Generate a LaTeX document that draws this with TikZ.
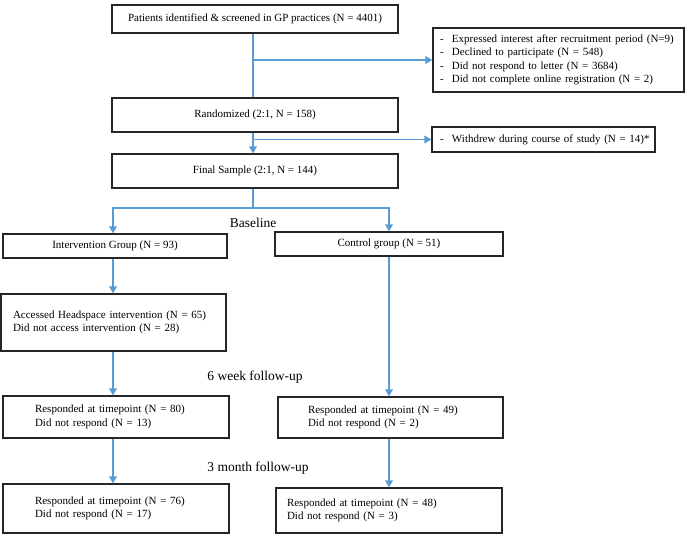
\documentclass[tikz,border=0pt]{standalone}
\usepackage{fontspec}
\setmainfont{Liberation Serif}
\usetikzlibrary{arrows.meta}
\definecolor{flowblue}{RGB}{91,155,213}
\begin{document}
\begin{tikzpicture}[x=1pt,y=-1pt,
  box/.style={draw=black!85,line width=1.1pt,rectangle,inner sep=0pt,
    font=\fontsize{11}{13.5}\selectfont,align=center},
  lbox/.style={box,align=left},
  flow/.style={draw=flowblue,line width=1.7pt},
  arr/.style={flow,-{Triangle[length=7pt,width=7.5pt]}},
  stage/.style={font=\fontsize{13.5}{16}\selectfont,inner sep=0pt}]
\useasboundingbox (0,0) rectangle (685,534);

\node[box,minimum width=286pt,minimum height=28pt] (scr) at (255,19)
  {Patients identified \& screened in GP practices (N = 4401)};
\node[lbox,text width=237pt,inner xsep=7pt,minimum height=64pt] (excl) at (558.5,60)
  {\makebox[12pt][l]{-}Expressed interest after recruitment period (N=9)\\
   \makebox[12pt][l]{-}Declined to participate (N = 548)\\
   \makebox[12pt][l]{-}Did not respond to letter (N = 3684)\\
   \makebox[12pt][l]{-}Did not complete online registration (N = 2)};
\node[box,minimum width=286pt,minimum height=34pt] (rand) at (255,115)
  {Randomized (2:1, N = 158)};
\node[lbox,text width=215pt,inner xsep=4pt,minimum height=25pt] (wd) at (543.5,139.5)
  {\hspace{4pt}\makebox[12pt][l]{-}Withdrew during course of study (N = 14)*};
\node[box,minimum width=286pt,minimum height=34pt] (fin) at (255,171)
  {Final Sample (2:1, N = 144)};
\node[box,minimum width=224pt,minimum height=24pt] (int) at (115,246)
  {Intervention Group (N = 93)};
\node[box,minimum width=228pt,minimum height=24pt] (ctl) at (389,244)
  {Control group (N = 51)};
\node[lbox,text width=201pt,inner xsep=12pt,minimum height=57pt] (acc) at (113.5,322.5)
  {Accessed Headspace intervention (N = 65)\\Did not access intervention (N = 28)};
\node[lbox,text width=162pt,inner xsep=32pt,minimum height=42pt] (iw6) at (116,417)
  {Responded at timepoint (N = 80)\\Did not respond (N = 13)};
\node[lbox,text width=165pt,inner xsep=30pt,minimum height=41pt] (cw6) at (390.5,417.5)
  {Responded at timepoint (N = 49)\\Did not respond (N = 2)};
\node[lbox,text width=162pt,inner xsep=32pt,minimum height=49pt] (im3) at (116,508.5)
  {Responded at timepoint (N = 76)\\Did not respond (N = 17)\\[6pt]};
\node[lbox,text width=204pt,inner xsep=11pt,minimum height=45pt] (cm3) at (389,510.5)
  {Responded at timepoint (N = 48)\\Did not respond (N = 3)};

\node[stage] (base) at (253,223) {Baseline};
\node[stage] (w6) at (255,377) {6 week follow-up};
\node[stage] (m3) at (258,468) {3 month follow-up};

\coordinate (cM) at (253,0);
\coordinate (cI) at (113,0);
\coordinate (cC) at (389,0);
\coordinate (split) at (253,208);

\draw[flow] (cM |- scr.south) -- (cM |- rand.north);
\draw[arr] (cM |- excl.west) -- (excl.west);
\draw[arr] (cM |- rand.south) -- (cM |- fin.north);
\draw[arr] (cM |- wd.west) -- (wd.west);
\draw[flow] (cM |- fin.south) -- (split);
\draw[arr] (split) -| (cI |- int.north);
\draw[arr] (split) -| (cC |- ctl.north);
\draw[arr] (cI |- int.south) -- (cI |- acc.north);
\draw[arr] (cI |- acc.south) -- (cI |- iw6.north);
\draw[arr] (cI |- iw6.south) -- (cI |- im3.north);
\draw[arr] (cC |- ctl.south) -- (cC |- cw6.north);
\draw[arr] (cC |- cw6.south) -- (cC |- cm3.north);
\end{tikzpicture}
\end{document}
